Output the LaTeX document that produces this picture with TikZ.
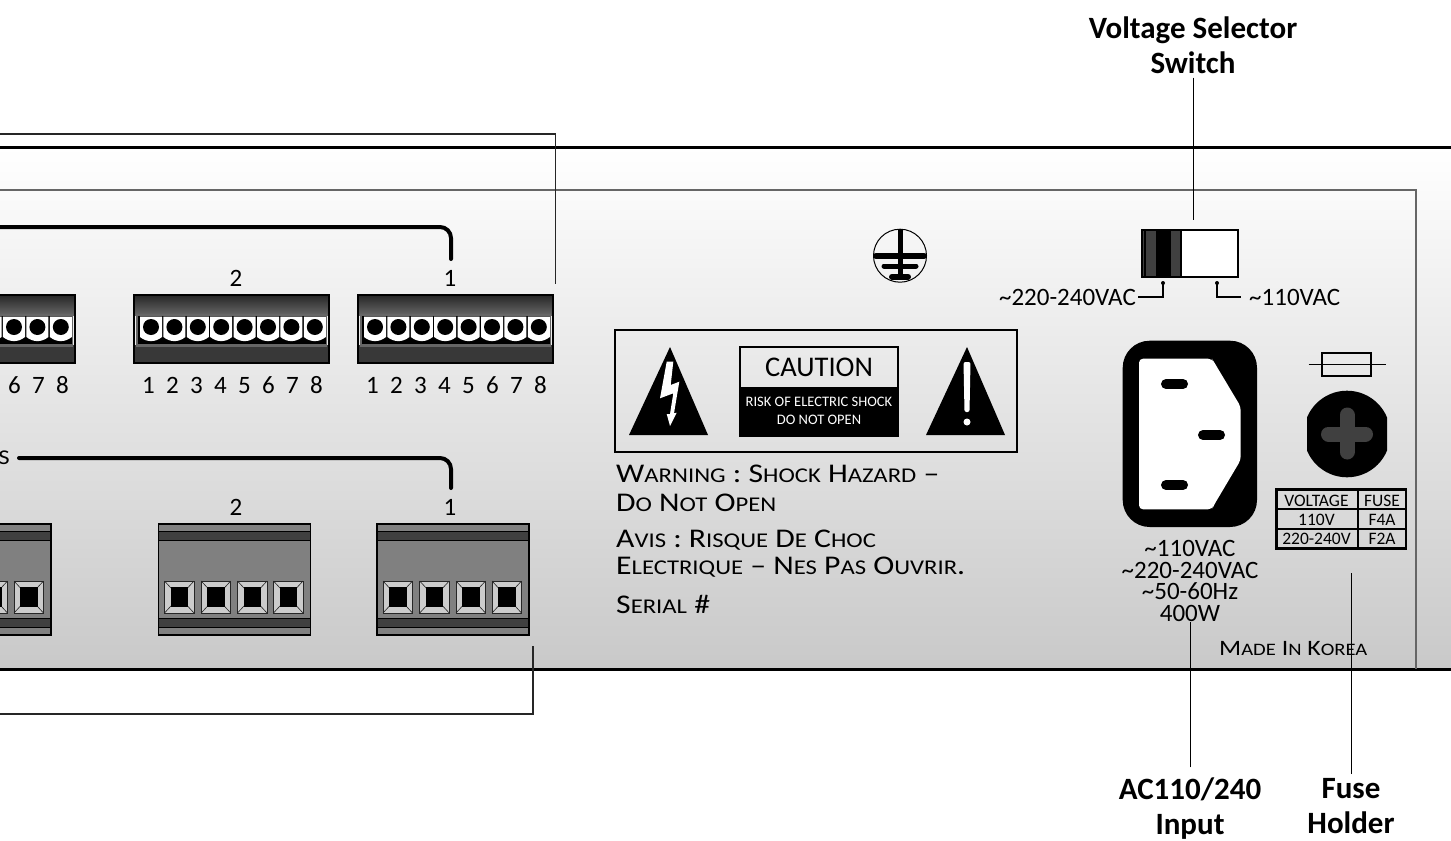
\documentclass[tikz,border=0pt]{standalone}
\usepackage{fontspec}
\setmainfont{Carlito}
\newfontfamily\widefont[FakeStretch=1.175]{Carlito}
\newcommand{\pxfont}[1]{\fontsize{#1bp}{#1bp}\selectfont}
\newcommand{\tld}{\char"7E\relax}
\newcommand{\lows}[1]{{\pxfont{21}#1}}
\newcommand{\lowm}[1]{{\pxfont{17.5}#1}}
\definecolor{panelend}{HTML}{C9C9C9}
\definecolor{termgray}{HTML}{808080}
\definecolor{termdark}{HTML}{404040}
\tikzset{
  body/.style={inner sep=0pt,anchor=base,font=\pxfont{25}},
  title/.style={inner sep=0pt,align=center,font=\bfseries\fontsize{31bp}{35bp}\selectfont},
  warn/.style={inner sep=0pt,anchor=base west,font=\widefont\pxfont{27}},
  cell/.style={inner sep=0pt,anchor=base,font=\pxfont{17.5}},
  leader/.style={black,line width=1bp},
  bus/.style={black,line width=4bp,line cap=round,rounded corners=11bp},
  pin/.style={black,line width=10bp,line cap=round},
  wire/.style={black,line width=2bp}
}
\begin{document}
\begin{tikzpicture}[x=1bp,y=-1bp,line join=miter]
%%
\path [use as bounding box,clip] (0,0) rectangle (1451,840);
\shade [top color=white,bottom color=panelend] (0,147) rectangle (1451,669);
\draw [black,line width=3bp] (0,147) -- (1451,147);
\draw [black,line width=3bp] (0,669) -- (1451,669);
\draw [black!60,line width=1.3bp] (0,190) -- (1416,190) -- (1416,669);
%
% upper terminal blocks
\foreach \bx/\first/\tag in {358/1/a,134/1/b,-120/6/c} {
  \shade [top color=black!85,bottom color=black!60] (\bx,295) rectangle ++(195,20);
  \fill [black!78] (\bx,345) rectangle ++(195,18);
  \fill [black!60] (\bx+2,314) rectangle ++(191,33);
  \fill [black] (\bx+3.5,315.5) rectangle ++(188,28);
  \draw [black,line width=1.5bp] (\bx,295) rectangle ++(195,68);
  \foreach \i in {1,...,8} {
    \pgfmathsetmacro{\cx}{\bx+17+(\i-1)*23.4}
    \fill [white] (\cx-11,316.5) -- (\cx+11,316.5) -- (\cx+11,337) .. controls (\cx+4,342.5) and (\cx-4,342.5) .. (\cx-11,337) -- cycle;
    \fill [black] (\cx,327) circle (8);
  }
  \foreach \i in {\first,...,8} {
    \pgfmathsetmacro{\nx}{\bx+14.5+(\i-1)*24}
    \node (num_\tag_\i) at (\nx,393) [body] {\i};
  }
}
\node (group_a1) at (450,286) [body] {1};
\node (group_a2) at (236,286) [body] {2};
%
% lower terminal blocks
\foreach \bx in {377,158.5,-101} {
  \fill [termgray] (\bx,524) rectangle ++(152,111);
  \fill [termdark] (\bx,531) rectangle ++(152,9);
  \fill [termdark] (\bx,618) rectangle ++(152,9);
  \draw [black,line width=1bp] (\bx,531) -- ++(152,0) (\bx,540) -- ++(152,0) (\bx,618) -- ++(152,0) (\bx,627) -- ++(152,0);
  \draw [black,line width=1.3bp] (\bx,524) rectangle ++(152,111);
  \foreach \sx in {6,42.7,79,115} {
    \fill [black!20] (\bx+\sx,581) rectangle ++(29.5,32);
    \draw [black!85,line width=1bp] (\bx+\sx,581) rectangle ++(29.5,32);
    \draw [black!85,line width=0.6bp] (\bx+\sx,581) -- ++(29.5,32) (\bx+\sx+29.5,581) -- ++(-29.5,32);
    \fill [black] (\bx+\sx+6,587) rectangle ++(17.5,20);
  }
}
\node (group_b1) at (450,515) [body] {1};
\node (group_b2) at (236,515) [body] {2};
\node (group_s) at (10,458) [inner sep=0pt,anchor=east,font=\widefont\pxfont{21}] {S};
%
% busses and brackets
\coordinate (bus_a) at (-5,227);
\coordinate (bus_a_end) at (451,259);
\coordinate (bus_b) at (19,458);
\coordinate (bus_b_end) at (451,488);
\draw [bus] (bus_a) -| (bus_a_end);
\draw [bus] (bus_b) -| (bus_b_end);
\coordinate (bracket_a) at (-5,134);
\coordinate (bracket_a_end) at (555.5,284);
\coordinate (bracket_b) at (-5,714);
\coordinate (bracket_b_end) at (533,646);
\draw [black!85,line width=1.3bp] (bracket_a) -| (bracket_a_end);
\draw [black!85,line width=1.3bp] (bracket_b) -| (bracket_b_end);
%
% earth symbol
\draw [black,line width=1bp] (900,255.7) circle (26.5);
\draw [black,line width=5bp] (900,229) -- (900,279);
\draw [black,line width=6bp,line cap=round] (876,255.7) -- (924,255.7);
\draw [black,line width=5bp,line cap=round] (884,266) -- (916,266);
\draw [black,line width=6bp,line cap=round] (892,276.7) -- (908,276.7);
%
% caution plate
\draw [black,line width=2.5bp] (615,330) rectangle (1017,452);
\fill [black] (670,347) -- (708,435) -- (629,435) -- cycle;
\fill [white] (666.7,361.7) -- (673.3,361.7) -- (670.7,385) -- (679.3,381.7) -- (674,413.3) -- (676.7,412.7) -- (670,426) -- (666.7,414) -- (670,414) -- (673.3,393.3) -- (660,398.3) -- cycle;
\fill [black] (967,347) -- (1005,435) -- (926,435) -- cycle;
\fill [white,rounded corners=2bp] (963.5,362) -- (970.5,362) -- (969.5,412) -- (964.5,412) -- cycle;
\fill [white] (967,422) circle (3.5);
\draw [black,line width=2bp] (740,347) rectangle (898,388);
\fill [black] (739,388) rectangle (899,437);
\node (caution) at (819,367) [inner sep=0pt,font=\pxfont{28.5}] {CAUTION};
\node (risk) at (819,402) [inner sep=0pt,white,font=\pxfont{14.5}] {RISK OF ELECTRIC SHOCK};
\node (noopen) at (819,420) [inner sep=0pt,white,font=\pxfont{14.5}] {DO NOT OPEN};
\node (warn_a) at (616,482) [warn] {W\lows{ARNING} : S\lows{HOCK} H\lows{AZARD} –};
\node (warn_b) at (616,511) [warn] {D\lows{O} N\lows{OT} O\lows{PEN}};
\node (warn_c) at (616,547) [warn] {A\lows{VIS} : R\lows{ISQUE} D\lows{E} C\lows{HOC}};
\node (warn_d) at (616,574) [warn] {E\lows{LECTRIQUE} – N\lows{ES} P\lows{AS} O\lows{UVRIR}.};
\node (serial) at (616,613) [warn] {S\lows{ERIAL} \#};
%
% voltage switch
\node (switch) at (1190,253.5) [draw=black,line width=2bp,fill=white,minimum width=96bp,minimum height=47bp,inner sep=0pt] {};
\fill [black] (1141,229) rectangle (1182,278);
\fill [black!75] (1142.5,231) rectangle (1143.5,276);
\fill [black!75] (1146,231) rectangle (1156,276);
\fill [black!75] (1170.5,231) rectangle (1180,276);
\coordinate (lead_a) at (1163,283);
\coordinate (lead_a_end) at (1138,296.5);
\coordinate (lead_b) at (1217,283);
\coordinate (lead_b_end) at (1241,296.5);
\draw [wire] (lead_a) |- (lead_a_end);
\draw [wire] (lead_b) |- (lead_b_end);
\fill [black] (lead_a) circle (2);
\fill [black] (lead_b) circle (2);
\node (volt_high) at (1136,305) [body,anchor=base east] {\tld220-240VAC};
\node (volt_low) at (1249,305) [body,anchor=base west] {\tld110VAC};
%
% mains inlet
\fill [black,rounded corners=27bp] (1122.7,340.7) rectangle (1257,527);
\fill [white,rounded corners=4bp] (1139,358.7) -- (1212,358.7) -- (1214,362) -- (1240.7,406.7) -- (1240.7,460) -- (1214,505) -- (1212,509.3) -- (1139,509.3) -- cycle;
\draw [pin] (1166,384) -- (1183,384);
\draw [pin] (1203,435) -- (1220,435);
\draw [pin] (1166,485) -- (1183,485);
\node (rating) at (1190,581) [inner sep=0pt,align=center,font=\fontsize{25bp}{21.7bp}\selectfont] {\tld110VAC\\ \tld220-240VAC\\ \tld50-60Hz\\ 400W};
%
% fuse
\draw [black,line width=2bp] (1322,352.7) rectangle (1371,376);
\draw [black,line width=1.8bp] (1308.7,364.5) -- (1385.7,364.5);
\begin{scope}
  \clip (1307,385) rectangle (1387,482);
  \fill [black] (1347,434) circle (43.3);
\end{scope}
\draw [termdark,line width=15bp,line cap=round] (1328.5,434) -- (1365.5,434);
\draw [termdark,line width=15bp,line cap=round] (1347,415) -- (1347,452);
\draw [black,line width=2.2bp] (1276.5,489.5) rectangle (1406,548.5);
\draw [black,line width=2bp] (1276.5,509.3) -- (1406,509.3) (1276.5,529) -- (1406,529) (1357.7,489.5) -- (1357.7,548.5);
\node (table_volt) at (1316.5,506) [cell] {VOLTAGE};
\node (table_fuse) at (1382,506) [cell] {FUSE};
\node (table_110) at (1316.5,525) [cell] {110V};
\node (table_f4a) at (1382,525) [cell] {F4A};
\node (table_220) at (1316.5,544) [cell] {220-240V};
\node (table_f2a) at (1382,544) [cell] {F2A};
\node (table) at (1341,519) [inner sep=0pt,minimum width=130bp,minimum height=60bp] {};
\node (made) at (1219,655) [warn,font=\widefont\pxfont{22}] {M\lowm{ADE} I\lowm{N} K\lowm{OREA}};
%
% callouts
\node (title_switch) at (1193,45) [title] {Voltage Selector\\ Switch};
\node (title_ac) at (1190,808.5) [title] {AC110/240\\ Input};
\node (title_fuse) at (1351,806) [title] {Fuse\\ Holder};
\draw [leader,shorten <=4bp,shorten >=9bp] (title_switch.south) -- (title_switch.south |- switch.north);
\draw [leader,shorten <=10bp] (title_ac.north) -- (title_ac.north |- rating.south);
\draw [leader,shorten <=4bp,shorten >=24bp] (title_fuse.north) -- (title_fuse.north |- table.south);
%
\end{tikzpicture}
\end{document}
